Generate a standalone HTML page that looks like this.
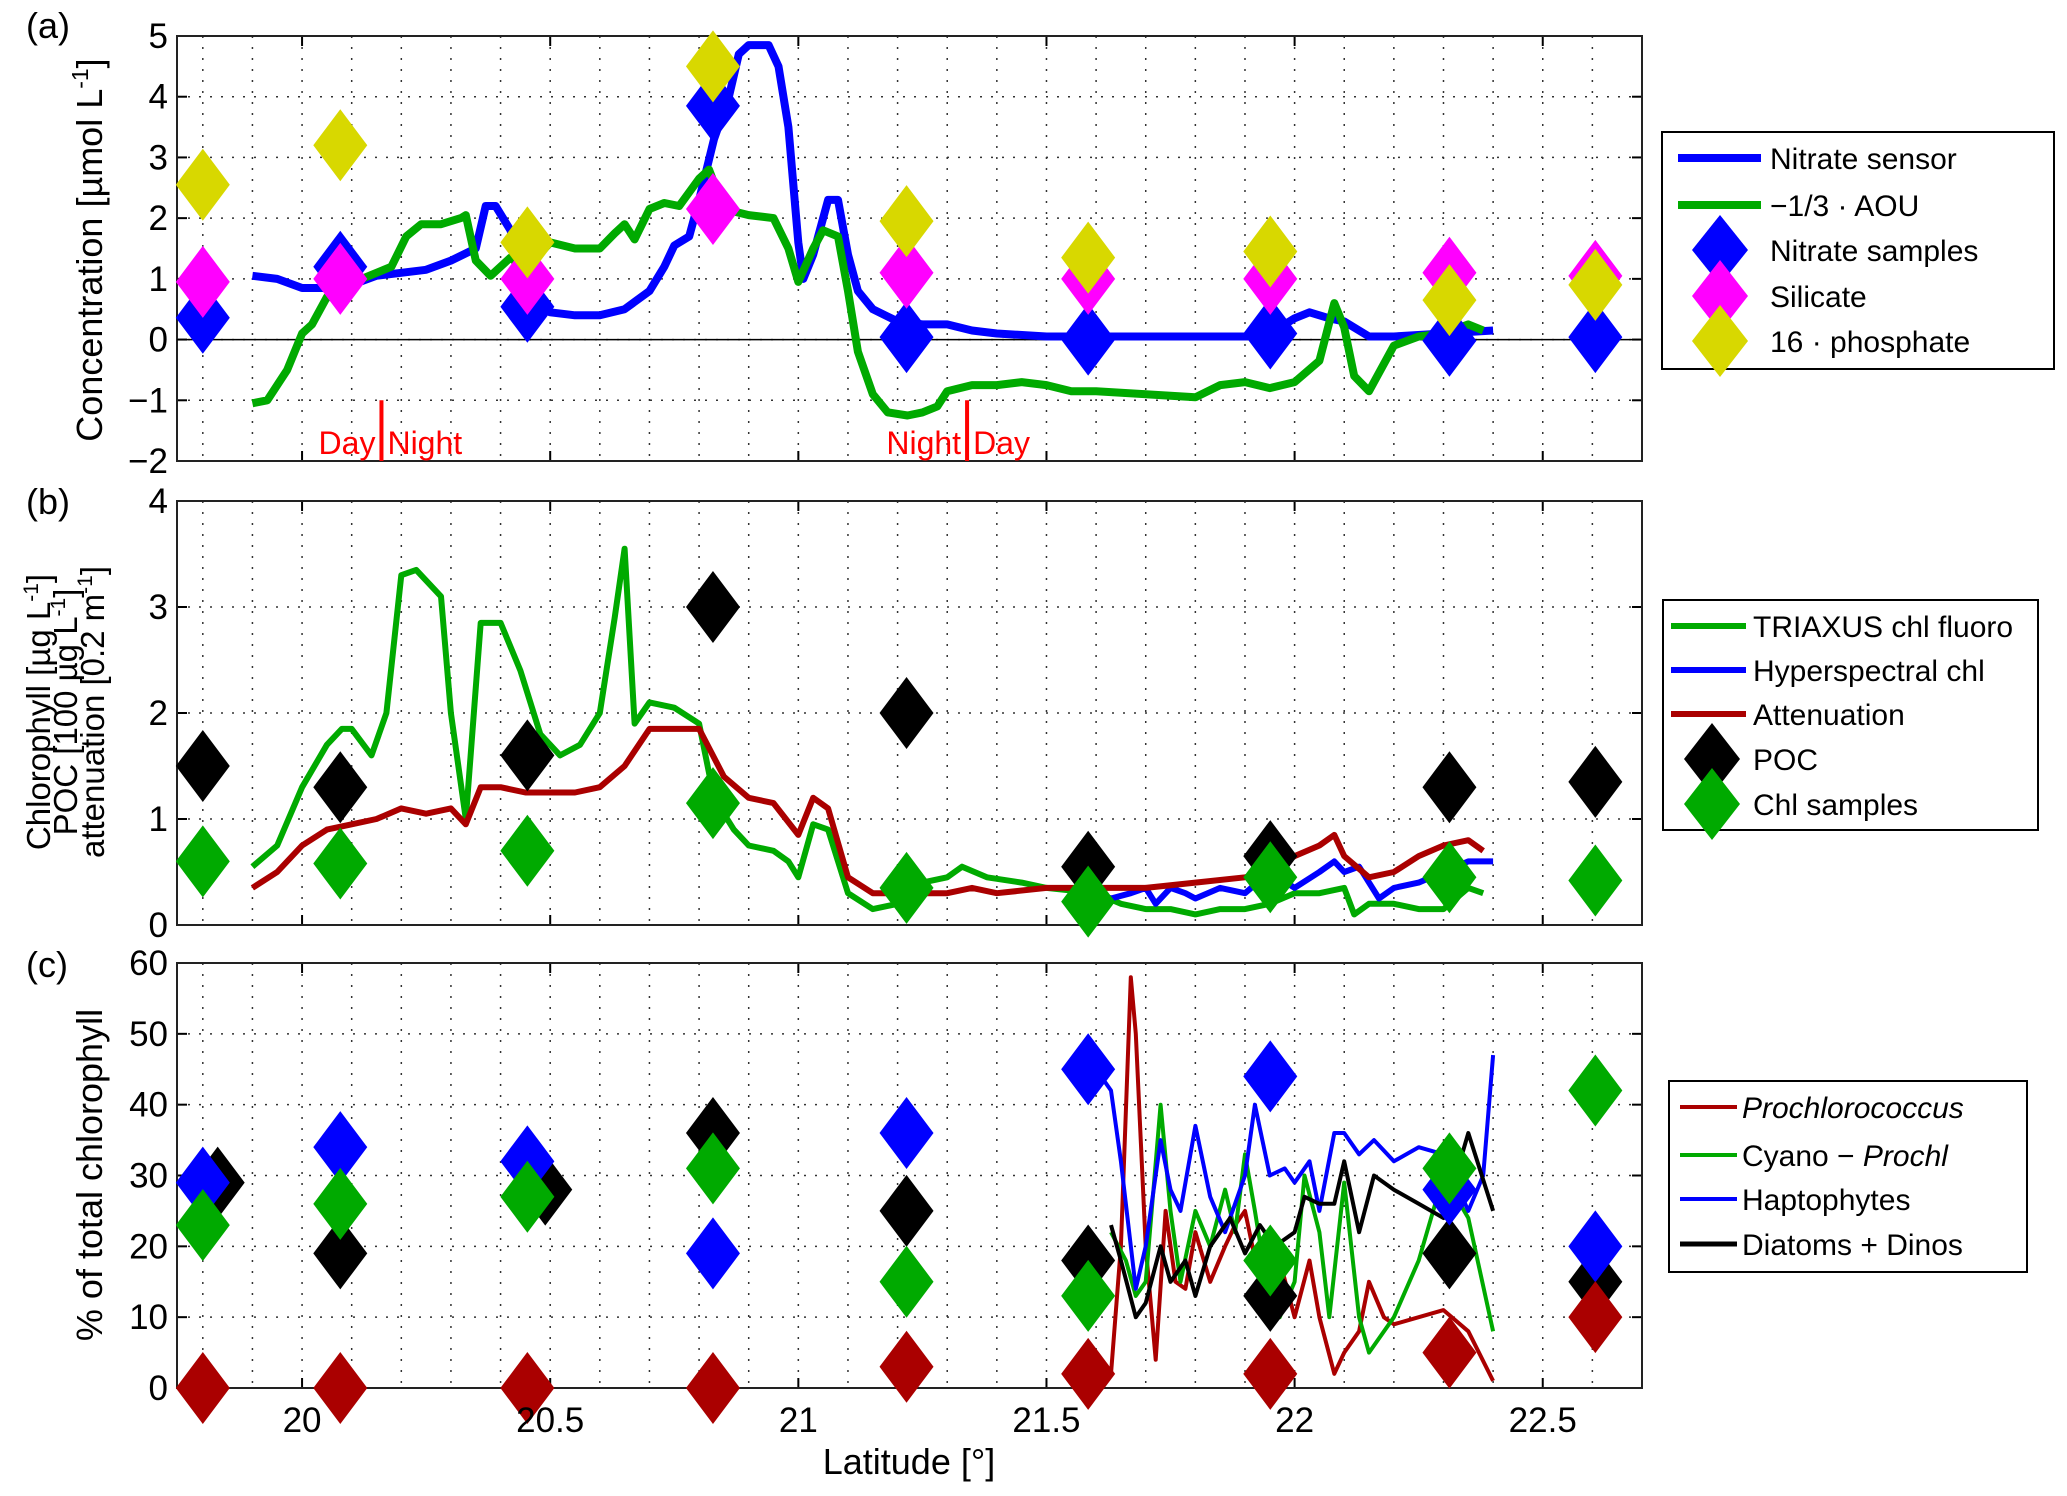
<!DOCTYPE html>
<html><head><meta charset="utf-8"><style>
body{margin:0;background:#fff}
svg{display:block;font-family:"Liberation Sans",Arial,sans-serif}
</style></head><body>
<svg id="fig" width="2067" height="1496" viewBox="0 0 2067 1496"></svg>
<script>
// ---- Data ----
const stationLat=[19.80,20.077,20.454,20.828,21.218,21.584,21.951,22.312,22.606];
const nitrateSamples=[0.36,1.2,0.54,3.85,0.04,0.0,0.1,-0.02,0.04];
const silicate=[0.95,1.0,1.0,2.15,1.1,1.0,1.0,1.1,1.05];
const phosphate16=[2.55,3.2,1.6,4.5,1.95,1.35,1.45,0.65,0.9];
const nitrateSensorLat=[19.9,19.95,20.0,20.05,20.1,20.15,20.2,20.25,20.3,20.35,20.37,20.39,20.42,20.45,20.48,20.5,20.55,20.6,20.65,20.7,20.73,20.75,20.78,20.8,20.83,20.86,20.88,20.9,20.94,20.96,20.98,21.0,21.01,21.03,21.06,21.08,21.1,21.12,21.15,21.2,21.25,21.3,21.35,21.4,21.5,21.6,21.7,21.8,21.9,21.95,22.0,22.03,22.07,22.1,22.15,22.2,22.3,22.4];
const nitrateSensor=[1.05,1.0,0.85,0.85,0.9,1.05,1.1,1.15,1.3,1.5,2.2,2.2,1.8,0.8,0.6,0.45,0.4,0.4,0.5,0.8,1.2,1.55,1.7,2.3,3.3,4.0,4.7,4.85,4.85,4.5,3.5,1.6,1.0,1.4,2.3,2.3,1.4,0.8,0.5,0.3,0.25,0.25,0.15,0.1,0.05,0.05,0.05,0.05,0.05,0.1,0.35,0.45,0.35,0.3,0.05,0.05,0.1,0.15];
const aouLat=[19.9,19.93,19.97,20.0,20.02,20.05,20.08,20.12,20.18,20.21,20.24,20.28,20.32,20.33,20.35,20.38,20.42,20.45,20.5,20.55,20.6,20.63,20.65,20.67,20.7,20.73,20.76,20.8,20.82,20.85,20.9,20.95,20.98,21.0,21.03,21.05,21.08,21.1,21.12,21.15,21.18,21.22,21.25,21.28,21.3,21.35,21.4,21.45,21.5,21.55,21.6,21.7,21.8,21.85,21.9,21.95,22.0,22.05,22.08,22.1,22.12,22.15,22.2,22.25,22.3,22.35,22.38];
const aou=[-1.05,-1.0,-0.5,0.1,0.25,0.7,0.7,1.0,1.2,1.7,1.9,1.9,2.0,2.05,1.3,1.05,1.35,1.15,1.6,1.5,1.5,1.75,1.9,1.65,2.15,2.25,2.2,2.65,2.8,2.15,2.05,2.0,1.5,0.95,1.5,1.8,1.7,0.8,-0.2,-0.9,-1.2,-1.25,-1.2,-1.1,-0.85,-0.75,-0.75,-0.7,-0.75,-0.85,-0.85,-0.9,-0.95,-0.75,-0.7,-0.8,-0.7,-0.35,0.6,0.2,-0.6,-0.85,-0.1,0.05,0.1,0.25,0.15];
const poc=[1.5,1.3,1.6,3.0,2.0,0.55,0.65,1.3,1.35];
const chlSamples=[0.6,0.58,0.7,1.15,0.35,0.22,0.45,0.45,0.42];
const triaxusLat=[19.9,19.95,20.0,20.05,20.08,20.1,20.14,20.17,20.2,20.23,20.28,20.3,20.33,20.36,20.4,20.44,20.48,20.52,20.56,20.6,20.63,20.65,20.67,20.7,20.75,20.8,20.83,20.87,20.9,20.95,20.98,21.0,21.03,21.06,21.1,21.15,21.2,21.25,21.3,21.33,21.38,21.45,21.5,21.6,21.65,21.7,21.75,21.8,21.85,21.9,21.95,22.0,22.05,22.1,22.12,22.15,22.2,22.25,22.3,22.35,22.38];
const triaxus=[0.55,0.75,1.3,1.7,1.85,1.85,1.6,2.0,3.3,3.35,3.1,2.0,1.0,2.85,2.85,2.4,1.8,1.6,1.7,2.0,2.9,3.55,1.9,2.1,2.05,1.9,1.2,0.9,0.75,0.7,0.6,0.45,0.95,0.9,0.3,0.15,0.2,0.4,0.45,0.55,0.45,0.4,0.35,0.3,0.2,0.15,0.15,0.1,0.15,0.15,0.2,0.3,0.3,0.35,0.1,0.2,0.2,0.15,0.15,0.35,0.3];
const hyperLat=[21.6,21.63,21.67,21.7,21.72,21.75,21.78,21.8,21.85,21.9,21.95,22.0,22.05,22.08,22.1,22.13,22.17,22.2,22.25,22.3,22.35,22.4];
const hyper=[0.3,0.25,0.3,0.35,0.2,0.35,0.3,0.25,0.35,0.3,0.5,0.35,0.5,0.6,0.5,0.55,0.25,0.35,0.4,0.5,0.6,0.6];
const attenLat=[19.9,19.95,20.0,20.05,20.1,20.15,20.2,20.25,20.3,20.33,20.36,20.4,20.45,20.5,20.55,20.6,20.65,20.7,20.8,20.85,20.9,20.95,21.0,21.03,21.06,21.1,21.15,21.2,21.3,21.35,21.4,21.5,21.6,21.7,21.8,21.9,21.95,22.0,22.05,22.08,22.1,22.15,22.2,22.25,22.3,22.35,22.38];
const atten=[0.35,0.5,0.75,0.9,0.95,1.0,1.1,1.05,1.1,0.95,1.3,1.3,1.25,1.25,1.25,1.3,1.5,1.85,1.85,1.4,1.2,1.15,0.85,1.2,1.1,0.45,0.3,0.3,0.3,0.35,0.3,0.35,0.35,0.35,0.4,0.45,0.5,0.65,0.75,0.85,0.65,0.45,0.5,0.65,0.75,0.8,0.7];
const prochlSamples=[0,0,0,0,3,2,2,5,10];
const cyanoSamples=[23,26,27,31,15,13,18,31,42];
const haptoSamples=[29,34,32,19,36,45,44,28,20];
const diatomLat=[19.83,20.077,20.49,20.828,21.218,21.584,21.951,22.312,22.606];
const diatomSamples=[29,19,28,36,25,18,13,19,15];
const prochlLat=[21.6,21.63,21.65,21.67,21.68,21.7,21.72,21.74,21.76,21.78,21.8,21.83,21.86,21.88,21.9,21.93,21.95,21.97,22.0,22.03,22.05,22.08,22.1,22.13,22.15,22.18,22.2,22.25,22.3,22.35,22.4];
const prochl=[0,2,20,58,50,20,4,25,15,14,22,15,20,23,25,15,10,18,10,18,10,2,5,8,15,10,9,10,11,8,1];
const cyanoLat=[21.63,21.66,21.68,21.7,21.73,21.75,21.77,21.8,21.83,21.86,21.88,21.9,21.92,21.95,21.97,22.0,22.02,22.05,22.07,22.1,22.13,22.15,22.2,22.25,22.3,22.35,22.4];
const cyano=[22,18,13,15,40,25,15,25,20,28,22,33,25,12,10,15,30,22,10,29,10,5,10,18,30,24,8];
const haptoLat=[21.6,21.63,21.65,21.68,21.7,21.73,21.75,21.77,21.8,21.83,21.86,21.9,21.92,21.95,21.98,22.0,22.03,22.05,22.08,22.1,22.13,22.16,22.2,22.25,22.3,22.35,22.38,22.4];
const hapto=[45,42,32,14,20,35,28,25,37,27,22,30,40,30,31,29,32,25,36,36,33,35,32,34,33,25,30,47];
const diatLineLat=[21.63,21.65,21.68,21.7,21.73,21.75,21.78,21.8,21.83,21.87,21.9,21.93,21.96,22.0,22.02,22.05,22.08,22.1,22.13,22.16,22.2,22.25,22.3,22.35,22.4];
const diatLine=[23,18,10,12,20,15,18,13,20,24,19,23,20,22,27,26,26,32,22,30,28,26,24,36,25];
const xTicks=[20,20.5,21,21.5,22,22.5];
const yTicksA=[-2,-1,0,1,2,3,4,5];
const yTicksB=[0,1,2,3,4];
const yTicksC=[0,10,20,30,40,50,60];

// ---- Drawing ----
const NS='http://www.w3.org/2000/svg';
const svg=document.getElementById('fig');
function el(tag,attrs,parent){const e=document.createElementNS(NS,tag);for(const k in attrs)e.setAttribute(k,attrs[k]);(parent||svg).appendChild(e);return e;}
const X0=177,X1=1642,LAT0=19.748,LAT1=22.70;
const xs=v=>X0+(v-LAT0)/(LAT1-LAT0)*(X1-X0);
const panels={
 a:{top:36,bot:461,min:-2,max:5,ticks:yTicksA},
 b:{top:501,bot:925,min:0,max:4,ticks:yTicksB},
 c:{top:963,bot:1388,min:0,max:60,ticks:yTicksC}
};
function ys(p,v){return p.bot-(v-p.min)/(p.max-p.min)*(p.bot-p.top);}
function txt(x,y,s,attrs,parent){const t=el('text',Object.assign({x:x,y:y,'font-size':28,fill:'#000'},attrs||{}),parent);t.textContent=s;return t;}

for(const key of ['a','b','c']){
  const p=panels[key];
  const g=el('g',{});
  
  
  for(let k=198;k<=226;k++){const v=k/10;const x=xs(v);
    const l=el('line',{x1:x,x2:x,y1:p.top,y2:p.bot,stroke:'#333','stroke-width':1.5,'stroke-dasharray':'2 9'},g);
    
    }
  for(const t of p.ticks){const y=ys(p,t);
    const l=el('line',{x1:X0,x2:X1,y1:y,y2:y,stroke:'#333','stroke-width':1.5,'stroke-dasharray':'2 9'},g);
    
    
    el('line',{x1:X0,x2:X0+10,y1:y,y2:y,stroke:'#000','stroke-width':2},g);
    el('line',{x1:X1,x2:X1-10,y1:y,y2:y,stroke:'#000','stroke-width':2},g);
    const tl=txt(X0-9,y+12,String(t).replace('-','\u2212'),{'text-anchor':'end','font-size':35},g);
    
    }
  for(const t of xTicks){const x=xs(t);
    el('line',{x1:x,x2:x,y1:p.bot,y2:p.bot-10,stroke:'#000','stroke-width':2},g);
    el('line',{x1:x,x2:x,y1:p.top,y2:p.top+10,stroke:'#000','stroke-width':2},g);}
  const fr=el('rect',{x:X0,y:p.top,width:X1-X0,height:p.bot-p.top,fill:'none',stroke:'#222','stroke-width':2},g);
  
  
}
el('line',{x1:X0,x2:X1,y1:ys(panels.a,0),y2:ys(panels.a,0),stroke:'#000','stroke-width':1.5});

function line(p,lx,ly,color,w,name){
  const d=lx.map((v,i)=>(i?'L':'M')+xs(v).toFixed(1)+','+ys(p,ly[i]).toFixed(1)).join('');
  const e=el('path',{d:d,fill:'none',stroke:color,'stroke-width':w,'stroke-linejoin':'round'});
  
  
}
function diamonds(p,lx,vals,color,name,hw,hh){
  hw=hw||27;hh=hh||36;
  lx.forEach((v,i)=>{const x=xs(v),y=ys(p,vals[i]);
    const e=el('polygon',{points:`${x},${y-hh} ${x+hw},${y} ${x},${y+hh} ${x-hw},${y}`,fill:color});
    
    });
}
const A=panels.a,B=panels.b,C=panels.c;
line(A,nitrateSensorLat,nitrateSensor,'#0000ff',8,'nitrate-sensor-line');
line(A,aouLat,aou,'#00aa00',8,'aou-line');
diamonds(A,stationLat,nitrateSamples,'#0000ff','nitrate-sample-marker');
diamonds(A,stationLat,silicate,'#ff00ff','silicate-marker');
diamonds(A,stationLat,phosphate16,'#d8d800','phosphate-marker');
[[20.16,'Day','Night'],[21.34,'Night','Day']].forEach(([lat,l,r])=>{const x=xs(lat);
  const m=el('line',{x1:x,x2:x,y1:ys(A,-1),y2:ys(A,-2),stroke:'#ff0000','stroke-width':4});
  
  
  txt(x-6,454,l,{'text-anchor':'end',fill:'#ff0000','font-size':32});
  txt(x+6,454,r,{fill:'#ff0000','font-size':32});});
line(B,triaxusLat,triaxus,'#00aa00',6,'triaxus-chl-line');
line(B,hyperLat,hyper,'#0000ff',6,'hyperspectral-chl-line');
line(B,attenLat,atten,'#aa0000',6,'attenuation-line');
diamonds(B,stationLat,poc,'#000000','poc-marker');
diamonds(B,stationLat,chlSamples,'#00aa00','chl-sample-marker');
line(C,prochlLat,prochl,'#aa0000',4,'prochlorococcus-line');
line(C,cyanoLat,cyano,'#00aa00',4,'cyano-line');
line(C,haptoLat,hapto,'#0000ff',4,'haptophytes-line');
line(C,diatLineLat,diatLine,'#000000',4,'diatoms-line');
diamonds(C,diatomLat,diatomSamples,'#000000','diatoms-marker');
diamonds(C,stationLat,haptoSamples,'#0000ff','haptophytes-marker');
diamonds(C,stationLat,cyanoSamples,'#00aa00','cyano-marker');
diamonds(C,stationLat,prochlSamples,'#aa0000','prochlorococcus-marker');

for(const t of xTicks){const tl=txt(xs(t),1432,String(t),{'text-anchor':'middle','font-size':35});
  
  }
</script>
<svg width="2067" height="1496" style="position:absolute;left:0;top:0;font-family:'Liberation Sans',Arial,sans-serif">
 <text x="909" y="1474" font-size="36" text-anchor="middle">Latitude [°]</text>
 <text x="26" y="38" font-size="36">(a)</text>
 <text x="26" y="514" font-size="36">(b)</text>
 <text x="26" y="977" font-size="36">(c)</text>
 <text transform="translate(102,250) rotate(-90)" font-size="36" text-anchor="middle">Concentration [µmol L<tspan dy="-14" font-size="23">-1</tspan><tspan dy="14">]</tspan></text>
 <g transform="translate(0,712) rotate(-90)" font-size="33" text-anchor="middle">
  <text x="0" y="50">Chlorophyll [µg L<tspan dy="-12" font-size="21">-1</tspan><tspan dy="12">]</tspan></text>
  <text x="0" y="77">POC [100 µg L<tspan dy="-12" font-size="21">-1</tspan><tspan dy="12">]</tspan></text>
  <text x="0" y="104">attenuation [0.2 m<tspan dy="-12" font-size="21">-1</tspan><tspan dy="12">]</tspan></text>
 </g>
 <text transform="translate(102,1175) rotate(-90)" font-size="36" text-anchor="middle">% of total chlorophyll</text>

 <g font-size="30">
  <rect x="1662" y="132" width="392" height="237" fill="#fff" stroke="#000" stroke-width="2"/>
  <line x1="1678" x2="1761" y1="158" y2="158" stroke="#0000ff" stroke-width="8"/><text x="1770" y="169">Nitrate sensor</text>
  <line x1="1678" x2="1761" y1="205" y2="205" stroke="#00aa00" stroke-width="8"/><text x="1770" y="216">−1/3 · AOU</text>
  <polygon points="1720,215 1748,250 1720,285 1692,250" fill="#0000ff"/><text x="1770" y="261">Nitrate samples</text>
  <polygon points="1720,260 1748,296 1720,332 1692,296" fill="#ff00ff"/><text x="1770" y="307">Silicate</text>
  <polygon points="1720,305 1748,341 1720,377 1692,341" fill="#d8d800"/><text x="1770" y="352">16 · phosphate</text>
 </g>
 <g font-size="30">
  <rect x="1663" y="600" width="375" height="230" fill="#fff" stroke="#000" stroke-width="2"/>
  <line x1="1671" x2="1746" y1="626" y2="626" stroke="#00aa00" stroke-width="6"/><text x="1753" y="637">TRIAXUS chl fluoro</text>
  <line x1="1671" x2="1746" y1="670" y2="670" stroke="#0000ff" stroke-width="6"/><text x="1753" y="681">Hyperspectral chl</text>
  <line x1="1671" x2="1746" y1="714" y2="714" stroke="#aa0000" stroke-width="6"/><text x="1753" y="725">Attenuation</text>
  <polygon points="1712,723 1740,759 1712,795 1684,759" fill="#000"/><text x="1753" y="770">POC</text>
  <polygon points="1712,768 1740,804 1712,840 1684,804" fill="#00aa00"/><text x="1753" y="815">Chl samples</text>
 </g>
 <g font-size="30">
  <rect x="1669" y="1081" width="358" height="191" fill="#fff" stroke="#000" stroke-width="2"/>
  <line x1="1680" x2="1737" y1="1107" y2="1107" stroke="#aa0000" stroke-width="4"/><text x="1742" y="1118" font-style="italic">Prochlorococcus</text>
  <line x1="1680" x2="1737" y1="1155" y2="1155" stroke="#00aa00" stroke-width="4"/><text x="1742" y="1166">Cyano − <tspan font-style="italic">Prochl</tspan></text>
  <line x1="1680" x2="1737" y1="1199" y2="1199" stroke="#0000ff" stroke-width="4"/><text x="1742" y="1210">Haptophytes</text>
  <line x1="1680" x2="1737" y1="1244" y2="1244" stroke="#000" stroke-width="5"/><text x="1742" y="1255">Diatoms + Dinos</text>
 </g>
</svg>
</body></html>
